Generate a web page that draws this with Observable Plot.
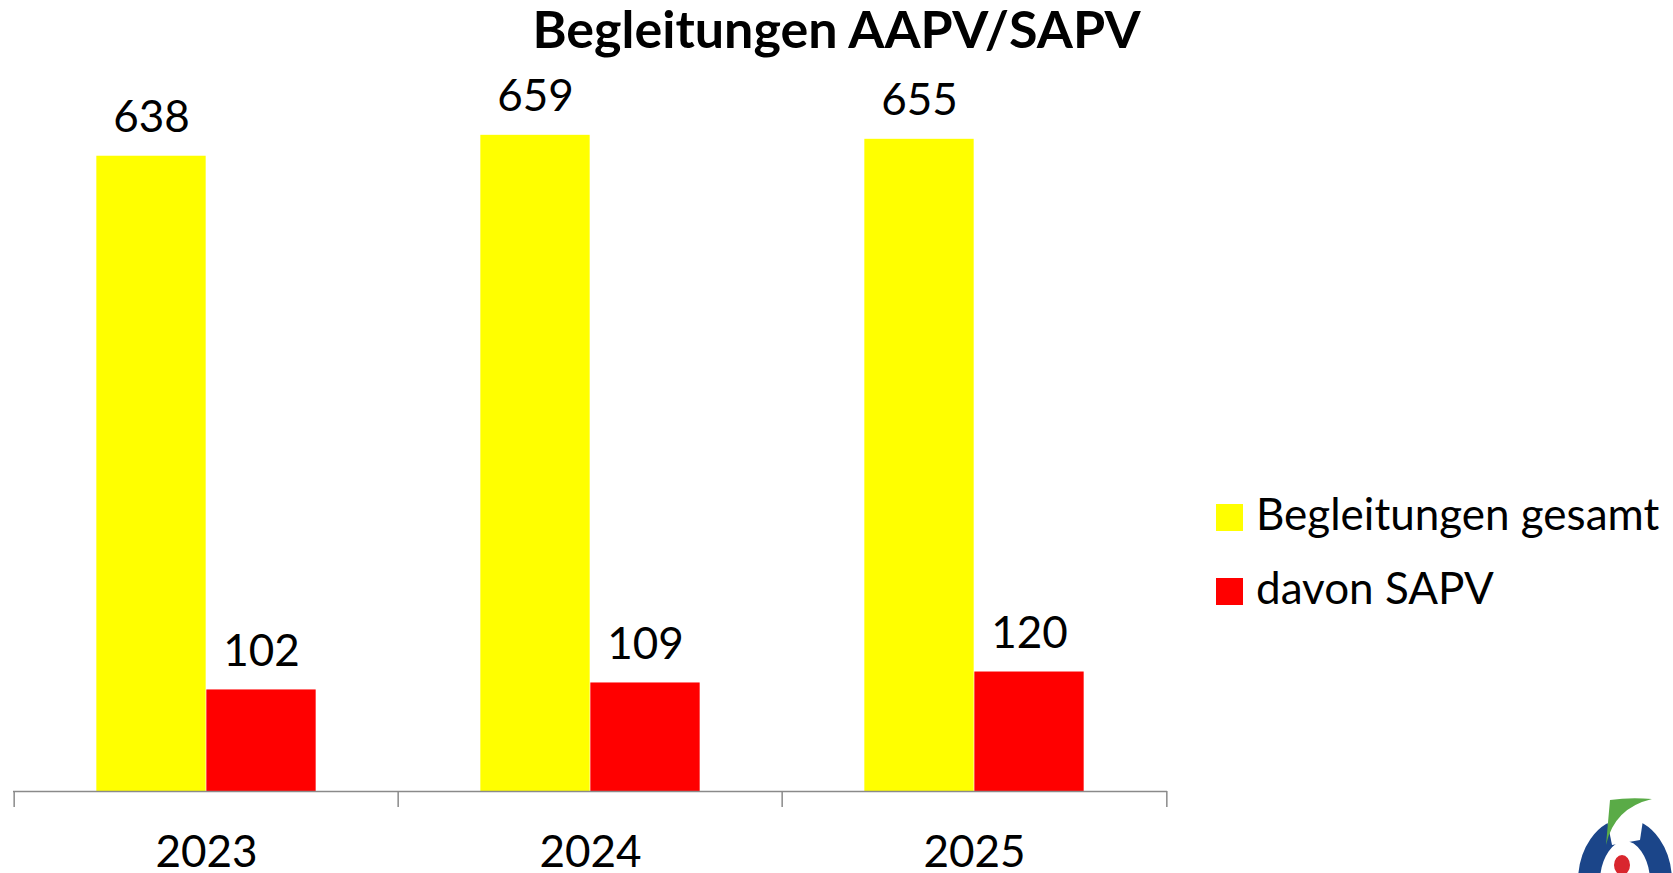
<!DOCTYPE html>
<html><head><meta charset="utf-8">
<script src="https://cdn.jsdelivr.net/npm/d3@7"></script>
<script src="https://cdn.jsdelivr.net/npm/@observablehq/plot@0.6"></script>
<style>
html,body{margin:0;padding:0;background:#fff;}
#wrap{position:relative;width:1673px;height:873px;overflow:hidden;font-family:Lato,sans-serif;color:#000;}
#wrap > svg.plot{position:absolute;left:0;top:0;}
#title{position:absolute;left:0;width:1673px;top:2px;text-align:center;font-weight:700;font-size:52px;line-height:52px;white-space:nowrap;}
.lg-sw{position:absolute;width:27px;height:27px;}
.lg-tx{position:absolute;font-size:44px;line-height:44px;white-space:nowrap;}
#logo{position:absolute;left:0;top:0;}
</style></head>
<body><div id="wrap"></div>
<script>
const title = "Begleitungen AAPV/SAPV";
const years = ["2023", "2024", "2025"];
const series = ["Begleitungen gesamt", "davon SAPV"];
const gesamt = [638, 659, 655];
const sapv = [102, 109, 120];
const colors = ["#FFFF00", "#FF0000"];

const data = years.flatMap((y, i) => [
  {year: y, series: series[0], value: gesamt[i]},
  {year: y, series: series[1], value: sapv[i]}
]);

const W = 1673, H = 873, mL = 13, mR = 506, mT = 94, mB = 82;
const band = (W - mL - mR) / years.length;
const barW = 110;
const outer = (band - 2 * barW) / 2;
const first = data.filter(d => d.series === series[0]);
const second = data.filter(d => d.series === series[1]);
const axisColor = "#8a8a8a";

const chart = Plot.plot({
  width: W, height: H,
  marginLeft: mL, marginRight: mR, marginTop: mT, marginBottom: mB,
  style: {fontFamily: "Lato, sans-serif", background: "transparent", color: "#000", overflow: "visible"},
  x: {domain: years, padding: 0, label: null},
  y: {domain: [0, 700], axis: null},
  color: {domain: series, range: colors},
  marks: [
    Plot.barY(first, {x: "year", y: "value", fill: "series", insetLeft: outer, insetRight: band - outer - barW}),
    Plot.barY(second, {x: "year", y: "value", fill: "series", insetLeft: outer + barW, insetRight: outer}),
    Plot.text(first, {x: "year", y: "value", text: d => String(d.value), dx: -barW / 2, dy: -24, lineAnchor: "bottom", fontSize: 44, fill: "#000"}),
    Plot.text(second, {x: "year", y: "value", text: d => String(d.value), dx: barW / 2, dy: -24, lineAnchor: "bottom", fontSize: 44, fill: "#000"}),
    Plot.ruleY([0], {stroke: axisColor, strokeWidth: 1.5}),
    Plot.ruleX(years, {x: d => d, dx: -band / 2, y1: 0, y2: -16, stroke: axisColor, strokeWidth: 1.5}),
    Plot.ruleX([years[years.length - 1]], {x: d => d, dx: band / 2, y1: 0, y2: -16, stroke: axisColor, strokeWidth: 1.5}),
    Plot.axisX({tickSize: 0, tickPadding: 44, fontSize: 44, label: null, fill: "#000"})
  ]
});
chart.classList.add("plot");

const wrap = document.getElementById("wrap");
wrap.appendChild(chart);

const t = document.createElement("div");
t.id = "title";
t.textContent = title;
wrap.appendChild(t);

series.forEach((s, i) => {
  const sw = document.createElement("div");
  sw.className = "lg-sw";
  sw.style.left = "1216px";
  sw.style.top = (504 + i * 74) + "px";
  sw.style.background = colors[i];
  wrap.appendChild(sw);
  const tx = document.createElement("div");
  tx.className = "lg-tx";
  tx.style.left = "1256px";
  tx.style.top = (491 + i * 74) + "px";
  tx.textContent = s;
  wrap.appendChild(tx);
});

// decorative logo fragment (bottom right)
const ns = "http://www.w3.org/2000/svg";
const logo = document.createElementNS(ns, "svg");
logo.setAttribute("id", "logo");
logo.setAttribute("width", W);
logo.setAttribute("height", H);
logo.innerHTML = `
  <ellipse cx="1625" cy="882" rx="36" ry="52" fill="none" stroke="#1b4589" stroke-width="22"/>
  <polygon points="1603,800 1646,800 1640,840 1612,845" fill="#fff"/>
  <path d="M1610,800 Q1630,797 1652,799 Q1614,808 1606,845 Z" fill="#5aab47"/>
  <ellipse cx="1622" cy="865" rx="8" ry="10" fill="#d9262e"/>`;
wrap.appendChild(logo);
</script>
</body></html>
